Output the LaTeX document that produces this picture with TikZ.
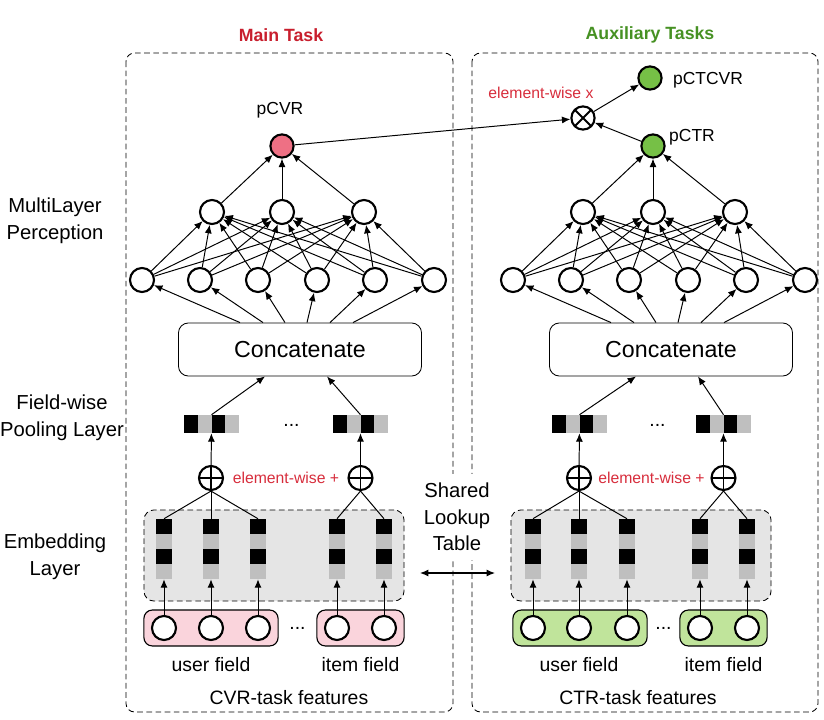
\documentclass[tikz,border=0pt]{standalone}
\usepackage{fontspec}
\setmainfont{Liberation Sans}
\usetikzlibrary{arrows.meta,positioning,calc,fit,backgrounds}

\definecolor{taskred}{RGB}{200,30,45}
\definecolor{wisered}{RGB}{215,45,60}
\definecolor{taskgreen}{RGB}{70,145,35}
\definecolor{outpink}{RGB}{238,112,132}
\definecolor{outgreen}{RGB}{118,192,70}
\definecolor{fieldpink}{RGB}{250,212,220}
\definecolor{fieldgreen}{RGB}{192,228,155}

\begin{document}
\begin{tikzpicture}[x=0.025cm, y=-0.025cm,
    neuron/.style={circle, draw, line width=1.5pt, fill=white, minimum size=0.6cm, inner sep=0pt},
    outn/.style={neuron, minimum size=0.58cm},
    arr/.style={-{Latex[length=6pt,width=5pt]}, line width=0.7pt},
    arrb/.style={{Latex[length=6pt,width=5pt]}-{Latex[length=6pt,width=5pt]}, line width=0.8pt},
    link/.style={line width=0.7pt},
    panel/.style={draw, dash pattern=on 4pt off 2.5pt, line width=0.6pt, rounded corners=6pt},
    catbox/.style={draw, rounded corners=7pt, line width=0.6pt, fill=white, minimum width=6.075cm, minimum height=1.325cm, font=\fontsize{16.5}{20}\selectfont},
    embbox/.style={draw, dash pattern=on 4pt off 2.5pt, rounded corners=7pt, line width=0.6pt, fill=black!10, minimum width=6.5cm, minimum height=2.275cm},
    field/.style={draw, rounded corners=6pt, line width=0.8pt, inner xsep=5pt, inner ysep=3.5pt},
    pool/.style={minimum width=1.375cm, minimum height=0.45cm, inner sep=0pt, fill=black!25,
        path picture={\fill[black] (path picture bounding box.south west) rectangle ++(0.344cm,0.45cm);
                      \fill[black] ([xshift=0.688cm]path picture bounding box.south west) rectangle ++(0.344cm,0.45cm);}},
    emb/.style={minimum width=0.41cm, minimum height=1.5cm, inner sep=0pt, fill=black!25,
        path picture={\fill[black] (path picture bounding box.north west) rectangle ++(0.41cm,-0.375cm);
                      \fill[black] ([yshift=-0.75cm]path picture bounding box.north west) rectangle ++(0.41cm,-0.375cm);}},
    plus/.style={circle, draw, line width=1.5pt, fill=white, minimum size=0.6cm, inner sep=0pt,
        path picture={\draw[line width=1.3pt] (path picture bounding box.north) -- (path picture bounding box.south)
                      (path picture bounding box.west) -- (path picture bounding box.east);}},
    times/.style={circle, draw, line width=1.5pt, fill=white, minimum size=0.58cm, inner sep=0pt,
        path picture={\draw[line width=1.3pt] (path picture bounding box.north west) -- (path picture bounding box.south east)
                      (path picture bounding box.south west) -- (path picture bounding box.north east);}},
    side/.style={align=center, font=\fontsize{14.4}{19}\selectfont},
    txt/.style={font=\fontsize{13.8}{16}\selectfont},
    plab/.style={font=\fontsize{12.4}{15}\selectfont},
    title/.style={font=\bfseries\fontsize{12.6}{15}\selectfont},
    wise/.style={text=wisered, font=\fontsize{11.2}{13}\selectfont}
]
\useasboundingbox (0,0) rectangle (824,719);

% task panels
\draw[panel] (126,53) rectangle (453,712);
\draw[panel] (472,53) rectangle (818,712);
\node[title, text=taskred] (main) at (281,35) {Main Task};
\node[title, text=taskgreen] (aux) at (650,35) {Auxiliary Tasks};
\node[txt] (cvrfeat) at (289,698) {CVR-task features};
\node[txt] (ctrfeat) at (638,698) {CTR-task features};

% layer names
\node[side] (mlp) at (55,221) {MultiLayer\\Perception};
\node[side] (poolname) at (62,418) {Field-wise\\Pooling Layer};
\node[side] (embname) at (55,557) {Embedding\\Layer};
\node[side, fill=white, inner ysep=6pt, inner xsep=1pt] (shared) at (457,517) {Shared\\Lookup\\Table};
\coordinate (lkL) at (420,573);
\coordinate (lkR) at (495,573);
\draw[arrb] (lkL) -- (lkR);

% outputs
\node[outn, fill=outpink] (L-out) at (282,146) {};
\node[plab] (cvrlab) at (280,110) {pCVR};
\node[outn, fill=outgreen] (R-out) at (653,146) {};
\node[plab] (ctrlab) at (692,137) {pCTR};
\node[times] (mul) at (583,118) {};
\node[wise] (mullab) at (541,93) {element-wise x};
\node[outn, fill=outgreen] (ctcvr) at (650,78) {};
\node[plab] (ctcvrlab) at (708,80) {pCTCVR};
\draw[arr] (L-out) -- (mul);
\draw[arr] (R-out) -- (mul);
\draw[arr] (mul) -- (ctcvr);

% MLP towers
\foreach \p/\s in {L/0,R/371} {
  \foreach \x [count=\i] in {142,200,258,317,375,434}
    \node[neuron] (\p-h\i) at (\x+\s,280) {};
  \foreach \x [count=\j] in {212,282,364}
    \node[neuron] (\p-g\j) at (\x+\s,212) {};
  \node[catbox] (\p-cat) at (300+\s,349.5) {Concatenate};
  \foreach \i in {1,...,6}
    \foreach \j in {1,2,3}
      \draw[arr] (\p-h\i) -- (\p-g\j);
  \foreach \j in {1,2,3}
    \draw[arr] (\p-g\j) -- (\p-out);
  \foreach \o [count=\i] in {-60,-37,-15,7,30,53}
    \draw[arr] ($(\p-cat.north)+(\o,0)$) -- (\p-h\i);
}

% embedding and pooling
\foreach \p/\xa/\xb/\xc/\xd/\xe/\ec/\fc in {L/164/211/258/337/384/274/fieldpink, R/533/579/627/700/747/641/fieldgreen} {
  \node[embbox] (\p-emb) at (\ec,555.5) {};
  \foreach \x [count=\i] in {\xa,\xb,\xc,\xd,\xe} {
    \node[emb] (\p-e\i) at (\x,549) {};
    \node[neuron] (\p-x\i) at (\x,628) {};
    \draw[arr] (\p-x\i) -- (\p-e\i);
  }
  \begin{scope}[on background layer]
    \node[field, fill=\fc, fit=(\p-x1)(\p-x3)] (\p-user) {};
    \node[field, fill=\fc, fit=(\p-x4)(\p-x5)] (\p-item) {};
  \end{scope}
  \node[txt] (\p-dots) at (\xc/2+\xd/2,628) {...};
  \node[txt] (\p-userlab) at (\xb,665) {user field};
  \node[txt] (\p-itemlab) at (\xd/2+\xe/2,665) {item field};
  \node[plus] (\p-s1) at (\xb,478) {};
  \node[plus] (\p-s2) at (\xd/2+\xe/2,478) {};
  \node[wise] (\p-wise) at (\xb/2+\xd/2+12,478) {element-wise +};
  \node[pool] (\p-v1) at (\xb+0.5,424) {};
  \node[pool] (\p-v2) at (\xd/2+\xe/2,424) {};
  \node[txt] (\p-vdots) at (\xc/2+\xd/2-6,425) {...};
  \draw[link] (\p-e1.north) -- (\p-s1.south);
  \draw[link] (\p-e2.north) -- (\p-s1.south);
  \draw[link] (\p-e3.north) -- (\p-s1.south);
  \draw[link] (\p-e4.north) -- (\p-s2.south);
  \draw[link] (\p-e5.north) -- (\p-s2.south);
  \draw[arr] (\p-s1) -- (\p-v1);
  \draw[arr] (\p-s2) -- (\p-v2);
  \draw[arr] (\p-v1.north) -- ($(\p-cat.south)+(-35,0)$);
  \draw[arr] (\p-v2.north) -- ($(\p-cat.south)+(27,0)$);
}
\end{tikzpicture}
\end{document}
